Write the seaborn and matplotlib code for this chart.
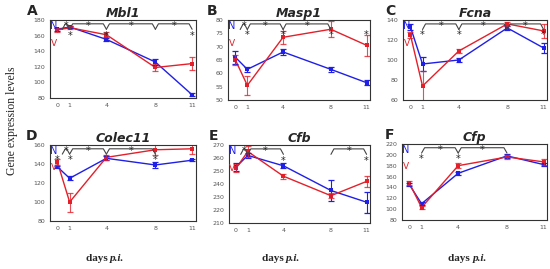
import numpy as np
import pandas as pd
import seaborn as sns
from matplotlib import pyplot as plt

sns.set_theme(style='white')
plt.rcParams['font.family'] = ['DejaVu Sans']

days = [0, 1, 4, 8, 11]

# Mean expression and error per gene (N = blue, V = red)
mbl1_n = [168, 171, 155, 126, 84]
mbl1_v = [167, 170, 161, 119, 124]
mbl1_n_err = [2, 1.5, 2, 4, 2]
mbl1_v_err = [2, 2, 3, 4, 8]

masp1_n = [66, 61.5, 68, 61.5, 56.5]
masp1_v = [65, 55.5, 73.5, 76.5, 70.5]
masp1_n_err = [2.5, 1, 1, 1, 1]
masp1_v_err = [2, 3.5, 2.5, 3, 4]

fcna_n = [133, 96, 100, 132, 112]
fcna_v = [125, 74, 109, 136, 129]
fcna_n_err = [3, 7, 2, 2, 5]
fcna_v_err = [3, 15, 2, 2, 7]

colec11_n = [137, 125, 146, 139, 144]
colec11_v = [142, 100, 147, 155, 156]
colec11_n_err = [1, 2, 2, 3, 1]
colec11_v_err = [3, 10, 3, 6, 5]

cfb_n = [253, 262, 254, 235, 226]
cfb_v = [252, 265, 246, 231, 242]
cfb_n_err = [3, 2, 2, 8, 8]
cfb_v_err = [3, 4, 2, 2, 4]

cfp_n = [145, 110, 166, 198, 182]
cfp_v = [148, 103, 180, 196, 187]
cfp_n_err = [3, 3, 3, 3, 3]
cfp_v_err = [3, 3, 5, 3, 6]

panels = [
    ('A', 'Mbl1', mbl1_n, mbl1_v, mbl1_n_err, mbl1_v_err, (80, 180), 20,
     [(0.4, 1), (1, 4), (4, 8), (8, 11)], [1, 4, 11], 160),
    ('B', 'Masp1', masp1_n, masp1_v, masp1_n_err, masp1_v_err, (50, 80), 5,
     [(0.4, 1), (1, 4), (4, 8)], [1, 4, 8, 11], 74.5),
    ('C', 'Fcna', fcna_n, fcna_v, fcna_n_err, fcna_v_err, (60, 140), 20,
     [(1, 4), (4, 8), (8, 11)], [1, 4, 11], 125),
    ('D', 'Colec11', colec11_n, colec11_v, colec11_n_err, colec11_v_err, (80, 160), 20,
     [(0.4, 1), (1, 4), (4, 8)], [0, 1, 8], 144),
    ('E', 'Cfb', cfb_n, cfb_v, cfb_n_err, cfb_v_err, (210, 270), 10,
     [(0.4, 1), (1, 4), (8, 11)], [4, 11], 258),
    ('F', 'Cfp', cfp_n, cfp_v, cfp_n_err, cfp_v_err, (80, 220), 20,
     [(1, 4), (4, 8)], [1, 4], 193),
]

positions = [
    [0.091, 0.636, 0.265, 0.29],
    [0.415, 0.628, 0.258, 0.298],
    [0.733, 0.628, 0.262, 0.298],
    [0.091, 0.178, 0.265, 0.283],
    [0.416, 0.171, 0.257, 0.29],
    [0.731, 0.182, 0.264, 0.283],
]
letter_x = [-0.085, -0.075, -0.055, -0.085, -0.075, -0.055]

blue = '#1f1fe6'
red = '#e3202a'

fig = plt.figure(figsize=(5.5, 2.69), dpi=100)

for pos, lx, (letter, gene, n, v, n_err, v_err, ylim, step, brackets, stars, star_y) in zip(positions, letter_x, panels):
    ax = fig.add_axes(pos)
    df = pd.DataFrame({'day': days * 2, 'value': n + v,
                       'group': ['N'] * 5 + ['V'] * 5})
    sns.lineplot(data=df, x='day', y='value', hue='group',
                 palette={'N': blue, 'V': red}, marker='s', markersize=3,
                 markeredgewidth=0, linewidth=1, legend=False, ax=ax)
    ax.errorbar(days, n, yerr=n_err, fmt='none', ecolor=blue, elinewidth=0.8, capsize=2.2, capthick=0.9)
    ax.errorbar(days, v, yerr=v_err, fmt='none', ecolor=red, elinewidth=0.8, capsize=2.2, capthick=0.9, alpha=0.8)

    lo, hi = ylim
    span = hi - lo
    # significance brackets
    by = hi - 0.05 * span
    d = 0.07 * span
    for a, b in brackets:
        ax.plot([a, a + 0.25, b - 0.25, b], [by - d, by, by, by - d], color='#444444', lw=0.8)
        ax.text((a + b) / 2, by - 0.03 * span, '*', ha='center', va='center', fontsize=7)
    for s in stars:
        ax.text(s, star_y, '*', ha='center', va='center', fontsize=7)

    ax.text(-0.3, hi - 0.075 * span, 'N', color=blue, fontsize=7, ha='center', va='center')
    ax.text(-0.3, hi - 0.3 * span, 'V', color=red, fontsize=6.5, ha='center', va='center')

    ax.set_xlim(-0.6, 11.3)
    ax.set_ylim(lo, hi)
    ax.set_xticks(days)
    ax.set_yticks(np.arange(lo, hi + 0.1, step))
    ax.tick_params(axis='both', labelsize=4.5, colors='#555555', length=2, pad=1.5)
    ax.set_xlabel('')
    ax.set_ylabel('')
    for sp in ax.spines.values():
        sp.set_color('#333333')
        sp.set_linewidth(0.8)
    ax.set_title(gene, fontsize=9, fontweight='bold', fontstyle='italic', pad=2)
    ax.text(lx, 1.02, letter, transform=ax.transAxes, fontsize=10, fontweight='bold',
            ha='right', va='bottom')

fig.text(0.022, 0.55, 'Gene expression levels', rotation=90, ha='center', va='center',
         fontsize=8.5, family='Liberation Serif')
for x in [0.2, 0.52, 0.86]:
    fig.text(x, 0.04, 'days ', ha='right', va='center', fontsize=8,
             family='Liberation Serif', fontweight='bold')
    fig.text(x, 0.04, 'p.i.', ha='left', va='center', fontsize=8,
             family='Liberation Serif', fontweight='bold', fontstyle='italic')

plt.savefig('out.png', dpi=100)
